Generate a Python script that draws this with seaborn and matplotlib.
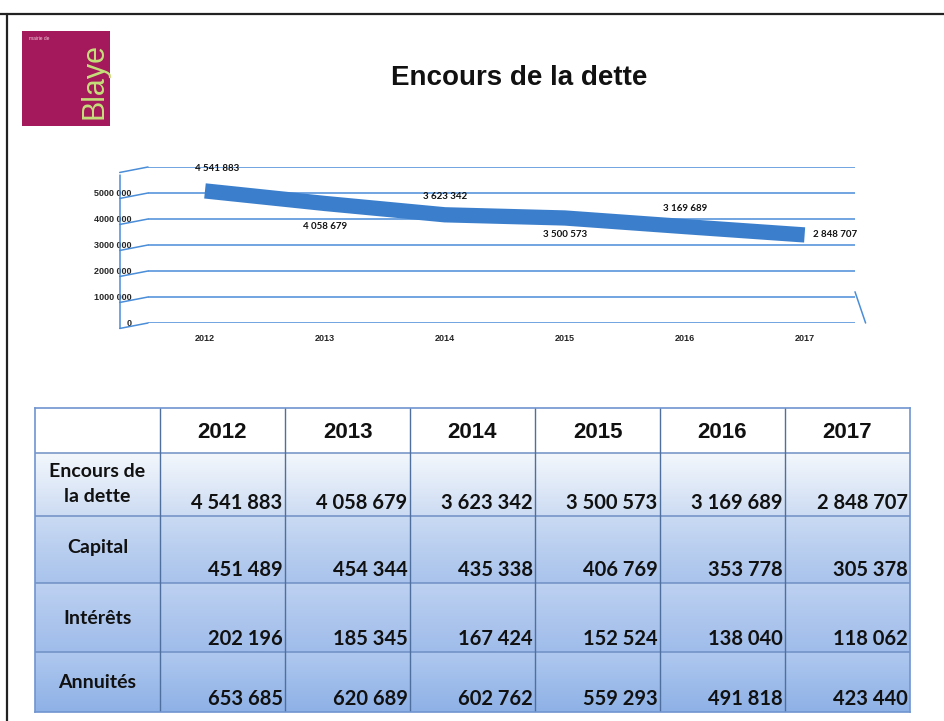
import numpy as np
import pandas as pd
import seaborn as sns
import matplotlib.pyplot as plt
import matplotlib.transforms as mtransforms
from matplotlib.colors import LinearSegmentedColormap
from matplotlib.lines import Line2D

### Data
years = ["2012", "2013", "2014", "2015", "2016", "2017"]
encours = [4541883, 4058679, 3623342, 3500573, 3169689, 2848707]
capital = [451489, 454344, 435338, 406769, 353778, 305378]
interets = [202196, 185345, 167424, 152524, 138040, 118062]
annuites = [653685, 620689, 602762, 559293, 491818, 423440]
row_labels = ["Encours de\nla dette", "Capital", "Intérêts", "Annuités"]
y_ticks = [0, 1000000, 2000000, 3000000, 4000000, 5000000]


def fmt(v):
    return f"{v:,}".replace(",", " ")


def fmt_axis(v):
    v = int(v)
    return "0" if v == 0 else f"{v // 1000} {v % 1000:03d}"


sns.set_theme(style="white")
plt.rcParams["font.family"] = ["Liberation Sans", "DejaVu Sans"]

fig = plt.figure(figsize=(9.45, 7.21), dpi=100)
W, H = 945, 721


def box(x0, y0, x1, y1):
    return [x0 / W, 1 - y1 / H, (x1 - x0) / W, (y1 - y0) / H]


# slide frame (top + left edges of the scan)
fig.add_artist(Line2D([0, 1], [1 - 14 / H, 1 - 14 / H], color="#222222", lw=1.6))
fig.add_artist(Line2D([7 / W, 7 / W], [0, 1 - 14 / H], color="#222222", lw=1.6))

# logo
ax_logo = fig.add_axes(box(22, 31, 110, 126))
ax_logo.set_facecolor("#a3195b")
ax_logo.set_xticks([])
ax_logo.set_yticks([])
for s in ax_logo.spines.values():
    s.set_visible(False)
ax_logo.text(0.82, 0.47, "Blaye", rotation=90, ha="center", va="center",
             fontsize=22, color="#c4e07a", transform=ax_logo.transAxes)
ax_logo.text(0.08, 0.9, "mairie de", fontsize=3.5, color="#f0c8da",
             transform=ax_logo.transAxes)

# title
fig.text(519 / W, 1 - 78 / H, "Encours de la dette", ha="center", va="center",
         fontsize=20, fontweight="bold", color="#111111")

### Line chart
ax = fig.add_axes(box(148, 167, 855, 323))
df = pd.DataFrame({"annee": years, "encours": encours})
df["pos"] = np.arange(len(years))
shift = mtransforms.offset_copy(ax.transData, fig=fig, x=0, y=14, units="dots")
sns.lineplot(data=df, x="pos", y="encours", ax=ax, color="#3b7fcc",
             linewidth=11, solid_capstyle="butt", transform=shift)
ax.set_xlim(-0.475, 5.42)
ax.set_ylim(0, 6000000)
for t in list(y_ticks) + [6000000]:
    ax.axhline(t, color="#4a8dd8", lw=1.1, zorder=0)
    ax.add_artist(Line2D([-0.04, 0], [t / 6000000 - 0.035, t / 6000000],
                         transform=ax.transAxes, color="#4a8dd8", lw=1.1, clip_on=False))
ax.add_artist(Line2D([-0.04, -0.04], [-0.035, 0.95], transform=ax.transAxes,
                     color="#4a8dd8", lw=1.1, clip_on=False))
ax.add_artist(Line2D([1.0, 1.015], [0.2, 0.0], transform=ax.transAxes,
                     color="#4a8dd8", lw=1.1, clip_on=False))
ax.set_yticks(y_ticks)
ax.set_yticklabels([fmt_axis(v) for v in y_ticks], fontsize=6.5, fontweight="bold")
ax.set_xticks(df["pos"])
ax.set_xticklabels(years, fontsize=6.5, fontweight="bold")
ax.tick_params(axis="y", pad=12, length=0)
ax.tick_params(axis="x", pad=8, length=0)
ax.set_xlabel("")
ax.set_ylabel("")
for s in ax.spines.values():
    s.set_visible(False)

offsets = [(12, 22), (0, -23), (0, 18), (0, -17), (0, 18), (30, 0)]
for i, v in enumerate(encours):
    dx, dy = offsets[i]
    ax.annotate(fmt(v), (i, v), xytext=(dx, dy + 14), textcoords="offset pixels",
                ha="center", va="center", fontsize=7, fontweight="bold",
                family=["Lato", "DejaVu Sans"], color="#111111")

### Table
ax_t = fig.add_axes(box(35, 408, 910, 712))
edges = [0, 45, 108, 175, 244, 304]
ax_t.set_xlim(0, 7)
ax_t.set_ylim(edges[-1], 0)
ax_t.set_xticks([])
ax_t.set_yticks([])
for s in ax_t.spines.values():
    s.set_color("#6f95d0")
    s.set_linewidth(1.2)

row_cols = [("#ffffff", "#ffffff"), ("#f3f7fc", "#cddcf3"),
            ("#c9daf3", "#a9c3ec"), ("#bdd1f1", "#9fbcea"), ("#afc8ef", "#8eb1e6")]
grad = np.linspace(0, 1, 64).reshape(-1, 1)
for r in range(5):
    cmap = LinearSegmentedColormap.from_list(f"r{r}", row_cols[r])
    ax_t.imshow(grad, cmap=cmap, aspect="auto", extent=(0, 7, edges[r + 1], edges[r]),
                zorder=0)
for e in edges[1:-1]:
    ax_t.axhline(e, color="#6f8fc4", lw=1.1)
for c in range(1, 7):
    ax_t.axvline(c, color="#4f6f9f", lw=1.0)

for j, y in enumerate(years):
    ax_t.text(j + 1.5, edges[0] + 24, y, ha="center", va="center",
              fontsize=16, fontweight="bold", color="#111111")

num_font = ["Lato", "DejaVu Sans"]
label_y = [76, 140, 210, 275]
for r, lab in enumerate(row_labels):
    ax_t.text(0.5, label_y[r], lab, ha="center", va="center", fontsize=14,
              fontweight="bold", family=num_font, color="#111111", linespacing=1.6)

table = [encours, capital, interets, annuites]
for r, vals in enumerate(table):
    for j, v in enumerate(vals):
        ax_t.text(j + 1.98, edges[r + 2] - 13, fmt(v), ha="right", va="center",
                  fontsize=14.5, fontweight="bold", family=num_font, color="#111111")

fig.savefig("out.png", dpi=100, facecolor="white")
